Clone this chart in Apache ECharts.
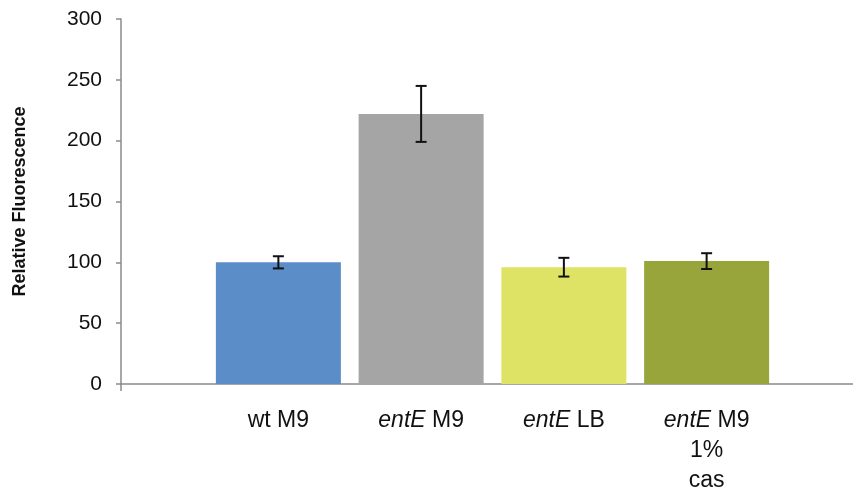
<!DOCTYPE html>
<html>
<head>
<meta charset="utf-8">
<script src="https://cdn.jsdelivr.net/npm/echarts@6/dist/echarts.min.js"></script>
<style>
  html, body { margin: 0; padding: 0; background: #fff; }
  #chart { width: 853px; height: 489px; }
</style>
</head>
<body>
<div id="chart"></div>
<script>
// values
const categories = ['wt M9', 'entE M9', 'entE LB', 'entE M9\n1%\ncas']
const values = [100, 222, 96, 101]
const errors = [5, 23, 7.7, 6.5]
const barColors = ['#5B8DC9', '#A5A5A5', '#DEE366', '#98A53A']

const font = '"Liberation Sans", Arial, sans-serif'

const chart = echarts.init(document.getElementById('chart'))

function labelText(name) {
  return name.replace('entE', '{i|entE}')
}

chart.setOption({
  animation: false,
  grid: [
    // axis frame (long x axis line)
    { left: 121, right: -2, top: 19, bottom: 105, outerBoundsMode: 'none', containLabel: false },
    // bars
    { left: 207, right: 75, top: 19, bottom: 105, outerBoundsMode: 'none', containLabel: false }
  ],
  xAxis: [
    {
      gridIndex: 0,
      type: 'value',
      min: 0,
      max: 1,
      interval: 1,
      axisLine: { show: true, lineStyle: { color: '#8a8a8a', width: 1.5 } },
      axisTick: { show: true, length: 7, lineStyle: { color: '#8a8a8a', width: 1.5 } },
      axisLabel: { show: false },
      splitLine: { show: false }
    },
    {
      gridIndex: 1,
      type: 'category',
      data: categories,
      axisLine: { show: false },
      axisTick: { show: false },
      axisLabel: {
        interval: 0,
        hideOverlap: false,
        margin: 22,
        fontFamily: font,
        fontSize: 23,
        color: '#111',
        lineHeight: 30,
        formatter: labelText,
        rich: {
          i: { fontStyle: 'italic', fontFamily: font, fontSize: 23, color: '#111', lineHeight: 30 }
        }
      }
    }
  ],
  yAxis: [
    {
      gridIndex: 0,
      type: 'value',
      min: 0,
      max: 300,
      interval: 50,
      name: 'Relative Fluorescence',
      nameLocation: 'middle',
      nameGap: 92,
      nameTextStyle: { fontFamily: font, fontSize: 18, fontWeight: 'bold', color: '#111' },
      axisLine: { show: true, lineStyle: { color: '#8a8a8a', width: 1.5 } },
      axisTick: { show: true, length: 5, lineStyle: { color: '#8a8a8a', width: 1.5 } },
      axisLabel: { margin: 19, fontFamily: font, fontSize: 21, color: '#111' },
      splitLine: { show: false }
    },
    {
      gridIndex: 1,
      type: 'value',
      min: 0,
      max: 300,
      show: false
    }
  ],
  series: [
    {
      type: 'bar',
      xAxisIndex: 1,
      yAxisIndex: 1,
      barWidth: 125,
      data: values.map((v, i) => ({ value: v, itemStyle: { color: barColors[i] } }))
    },
    {
      type: 'custom',
      xAxisIndex: 1,
      yAxisIndex: 1,
      z: 5,
      data: values.map((v, i) => [i, v, errors[i]]),
      renderItem(params, api) {
        const x = api.value(0)
        const v = api.value(1)
        const e = api.value(2)
        const top = api.coord([x, v + e])
        const bot = api.coord([x, v - e])
        const hw = 5.5
        const style = { stroke: '#111', lineWidth: 2 }
        return {
          type: 'group',
          children: [
            { type: 'line', shape: { x1: top[0], y1: top[1], x2: bot[0], y2: bot[1] }, style },
            { type: 'line', shape: { x1: top[0] - hw, y1: top[1], x2: top[0] + hw, y2: top[1] }, style },
            { type: 'line', shape: { x1: bot[0] - hw, y1: bot[1], x2: bot[0] + hw, y2: bot[1] }, style }
          ]
        }
      }
    }
  ]
})
</script>
</body>
</html>
